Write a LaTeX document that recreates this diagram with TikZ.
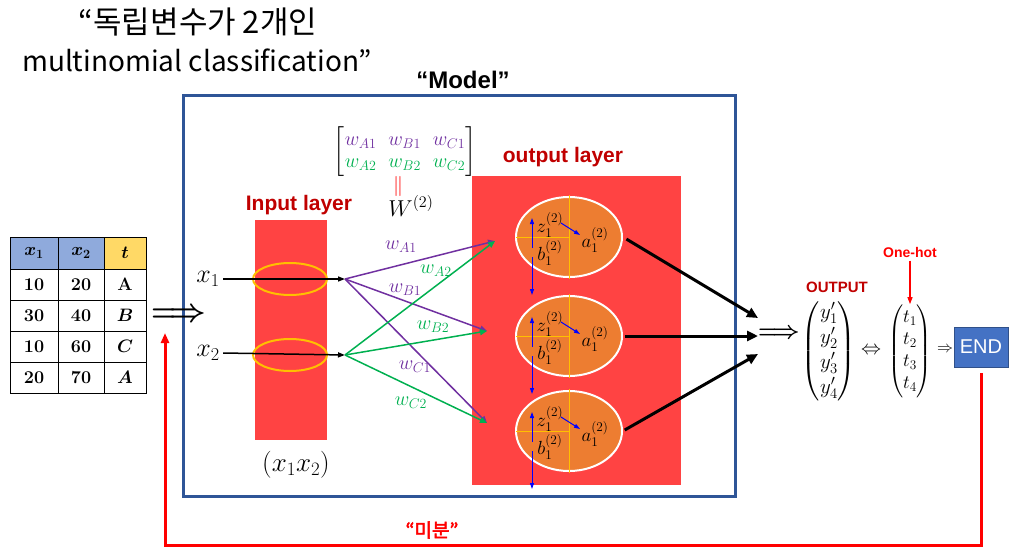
\RequirePackage{fix-cm}
\documentclass[tikz,border=0pt]{standalone}
\usepackage{amsmath}
\usepackage{fontspec}
\setsansfont{Liberation Sans}
\newfontfamily\krfont{Noto Sans CJK KR}
\newfontfamily\krbold[FakeBold=2.5]{Noto Sans CJK KR}
\usetikzlibrary{arrows.meta,shapes.geometric}

\definecolor{modelblue}{HTML}{2F5597}
\definecolor{layerred}{HTML}{FF4343}
\definecolor{darkred}{HTML}{C00000}
\definecolor{wpurple}{HTML}{7030A0}
\definecolor{wgreen}{HTML}{00B050}
\definecolor{neuronor}{HTML}{ED7D31}
\definecolor{ringor}{HTML}{FFC000}
\definecolor{hdblue}{HTML}{8FAADC}
\definecolor{hdyellow}{HTML}{FFD966}
\definecolor{endblue}{HTML}{4472C4}

\newcommand{\fs}[1]{\fontsize{#1}{#1}\selectfont}

\tikzset{
  cell/.style={draw,line width=1pt,minimum width=#1,minimum height=31pt,inner sep=0pt,font=\fs{18}\bfseries},
  ring/.style={draw=ringor,line width=2pt,ellipse,minimum width=74pt,minimum height=32pt,inner sep=0pt},
  neuron/.style={ellipse,fill=neuronor,draw=white,line width=2pt,minimum width=106pt,minimum height=80pt,inner sep=0pt},
  wA/.style={wpurple,line width=1.5pt,-{Triangle[length=7pt,width=6pt]}},
  wB/.style={wgreen,line width=1.5pt,-{Triangle[length=7pt,width=6pt]}},
  bluearr/.style={blue,line width=1pt,-{Triangle[length=6pt,width=4pt]}},
  thickarr/.style={line width=3pt,-{Triangle[length=11pt,width=10pt]}},
  redlabel/.style={text=darkred,font=\sffamily\bfseries\fs{21}},
}

\begin{document}
\begin{tikzpicture}[x=1pt,y=-1pt]
  \useasboundingbox (0,0) rectangle (1010,552);
  % titulo
  \node[font=\krfont\fs{31}] (title1) at (198,22) {“독립변수가 2개인};
  \node[font=\krfont\fs{28}] (title2) at (197,60) {multinomial classification”};
  \node[font=\sffamily\bfseries\fs{24}] (modeltitle) at (463,80) {“Model”};
  \node[draw=modelblue,line width=3pt,minimum width=552pt,minimum height=401pt] (model) at (459,295.5) {};

  % tabla de datos
  \foreach \r/\y/\a/\b/\c in {1/284.5/10/20/A,2/315.5/30/40/$\boldsymbol{B}$,3/346.5/10/60/$\boldsymbol{C}$,4/377.5/20/70/$\boldsymbol{A}$}{
    \node[cell=48pt] (ta\r) at (34,\y) {\a};
    \node[cell=46pt] (tb\r) at (81,\y) {\b};
    \node[cell=42pt] (tc\r) at (125,\y) {\c};
  }
  \node[cell=48pt,fill=hdblue,minimum height=32pt] (ta0) at (34,253) {$\boldsymbol{x_1}$};
  \node[cell=46pt,fill=hdblue,minimum height=32pt] (tb0) at (81,253) {$\boldsymbol{x_2}$};
  \node[cell=42pt,fill=hdyellow,minimum height=32pt] (tc0) at (125,253) {$\boldsymbol{t}$};
  \node[font=\fs{32}] (dbl1) at (179,315) {$\boldsymbol{\Longrightarrow}$};

  % capa de entrada
  \node[fill=layerred,minimum width=72pt,minimum height=220pt] (inlayer) at (291,330) {};
  \node[redlabel] (inlabel) at (299,205) {Input layer};
  \node[ring] (r1) at (290,279) {};
  \node[ring] (r2) at (290,355) {};
  \node[font=\fs{26}] (x1) at (208,279) {$x_1$};
  \node[font=\fs{26}] (x2) at (208,353) {$x_2$};
  \node[font=\fs{27}] (xvec) at (296,465) {$(x_1x_2)$};
  \coordinate (s1) at (345,279);
  \coordinate (s2) at (345,355);
  \draw[line width=1.5pt,-{Triangle[length=7pt,width=5pt]}] (x1.east) -- (s1);
  \draw[line width=1.5pt,-{Triangle[length=7pt,width=5pt]}] (x2.east) -- (s2);

  % pesos
  \node[font=\fs{20}] (wmat) at (405,152) {\arraycolsep=6pt$\begin{bmatrix}\color{wpurple}w_{A1}&\color{wpurple}w_{B1}&\color{wpurple}w_{C1}\\[2pt]\color{wgreen}w_{A2}&\color{wgreen}w_{B2}&\color{wgreen}w_{C2}\end{bmatrix}$};
  \node[text=red,font=\fs{20}] (eq) at (398,186) {$\parallel$};
  \node[font=\fs{23}] (wlabel) at (411,206) {$W^{(2)}$};

  % capa de salida
  \node[fill=layerred,minimum width=209pt,minimum height=309pt] (outlayer) at (576.5,330.5) {};
  \node[redlabel] (outlabel) at (563,157) {output layer};
  \foreach \i/\y in {1/237,2/336,3/431}{
    \node[neuron] (n\i) at (569,\y) {};
    \draw[ringor,line width=1pt] ([yshift=1pt]n\i.north) -- ([yshift=-1pt]n\i.south);
    \draw[ringor,line width=1pt] ([xshift=1pt]n\i.west) -- (n\i.center);
    \node[font=\fs{19}] (z\i) at ([shift={(-19,-12)}]n\i.center) {$z_1^{(2)}$};
    \node[font=\fs{19}] (b\i) at ([shift={(-19,16)}]n\i.center) {$b_1^{(2)}$};
    \node[font=\fs{19}] (a\i) at ([shift={(26,3)}]n\i.center) {$a_1^{(2)}$};
    \draw[bluearr] ([shift={(-8,-14)}]n\i.center) -- ([shift={(11,-2)}]n\i.center);
    \draw[bluearr] ([shift={(-37,11)}]n\i.center) -- ([shift={(-37,-19)}]n\i.center);
    \draw[bluearr] ([shift={(-37,20)}]n\i.center) -- ([shift={(-37,58)}]n\i.center);
  }
  \coordinate (in1) at (495,241);
  \coordinate (in2) at (487,331);
  \coordinate (in3) at (487,423);
  \draw[wA] (s1) -- (in1);
  \draw[wA] (s1) -- (in2);
  \draw[wA] (s1) -- (in3);
  \draw[wB] (s2) -- (in1);
  \draw[wB] (s2) -- (in2);
  \draw[wB] (s2) -- (in3);
  \node[text=wpurple,font=\fs{20}] (wa1) at (401,247) {$w_{A1}$};
  \node[text=wgreen,font=\fs{20}] (wa2) at (436,271) {$w_{A2}$};
  \node[text=wpurple,font=\fs{20}] (wb1) at (405,290) {$w_{B1}$};
  \node[text=wgreen,font=\fs{20}] (wb2) at (433,327) {$w_{B2}$};
  \node[text=wpurple,font=\fs{20}] (wc1) at (415,367) {$w_{C1}$};
  \node[text=wgreen,font=\fs{20}] (wc2) at (411,403) {$w_{C2}$};

  % salida
  \coordinate (o1) at (758,318);
  \coordinate (o2) at (758,336);
  \coordinate (o3) at (758,354);
  \draw[thickarr,shorten <=4pt] (n1.east) -- (o1);
  \draw[thickarr,shorten <=2pt] (n2.east) -- (o2);
  \draw[thickarr,shorten <=2pt] (n3.east) -- (o3);
  \node[font=\fs{24}] (dbl2) at (779,334) {$\boldsymbol{\Longrightarrow}$};
  \node[inner sep=0pt,font=\fontsize{21}{25}\selectfont] (ymat) at (829,351) {$\begin{pmatrix}y'_1\\y'_2\\y'_3\\y'_4\end{pmatrix}$};
  \node[text=darkred,font=\sffamily\bfseries\fs{15}] (outtext) at (837,287) {OUTPUT};
  \node[font=\fs{20}] (iff) at (871,351) {$\Leftrightarrow$};
  \node[inner sep=0pt,font=\fontsize{19}{22}\selectfont] (tmat) at (910,351) {$\begin{pmatrix}t_1\\t_2\\t_3\\t_4\end{pmatrix}$};
  \node[text=red,font=\sffamily\bfseries\fs{14}] (onehot) at (910,252) {One-hot};
  \draw[red,line width=1.2pt,-{Triangle[length=7pt,width=5pt]}] (onehot.south) -- (tmat.north);
  \node[font=\fs{16}] (impl) at (945,350) {$\Rightarrow$};
  \node[fill=endblue,draw=endblue!70!black,minimum width=54pt,minimum height=40pt,text=white,font=\sffamily\fs{20}] (endb) at (981,347) {END};

  % retroalimentacion
  \coordinate (fbend) at (165,333);
  \draw[red,line width=3pt,-{Triangle[length=10pt,width=8pt]},shorten <=6pt] (endb.south) -- ++(0,178) -| (fbend);
  \node[text=red,font=\krbold\fs{19}] (diff) at (432,530) {“미분”};
\end{tikzpicture}
\end{document}
